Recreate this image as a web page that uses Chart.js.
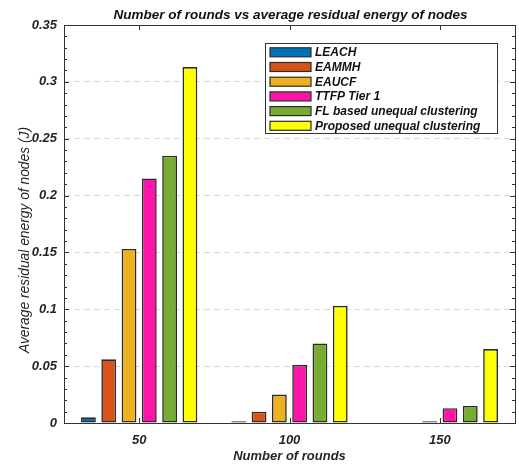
<!DOCTYPE html>
<html>
<head>
<meta charset="utf-8">
<script src="https://cdn.jsdelivr.net/npm/chart.js@4/dist/chart.umd.min.js"></script>
<style>
html,body{margin:0;padding:0;background:#fff;}
#wrap{width:519px;height:464px;position:relative;}
</style>
</head>
<body>
<div id="wrap"><canvas id="c" width="519" height="464"></canvas></div>
<script>
const categories = ['50', '100', '150'];
const seriesNames = ['LEACH', 'EAMMH', 'EAUCF', 'TTFP Tier 1', 'FL based unequal clustering', 'Proposed unequal clustering'];
const leach    = [0.005, 0.0015, 0];
const eammh    = [0.056, 0.010, 0];
const eaucf    = [0.153, 0.025, 0.0015];
const ttfp     = [0.215, 0.051, 0.013];
const fl       = [0.235, 0.070, 0.015];
const proposed = [0.313, 0.103, 0.065];
const yTicks = [0, 0.05, 0.1, 0.15, 0.2, 0.25, 0.3, 0.35];
const colors = ['#0072BD', '#D95319', '#EDB120', '#FF14A8', '#77AC30', '#FFFF00'];
const titleText = 'Number of rounds vs average residual energy of nodes';
const xTitle = 'Number of rounds';
const yTitle = 'Average residual energy of nodes (J)';

const FONT = '"Liberation Sans", Arial, sans-serif';
const allSeries = [leach, eammh, eaucf, ttfp, fl, proposed];

const datasets = allSeries.map((d, i) => ({
  label: seriesNames[i],
  data: d,
  backgroundColor: colors[i],
  borderColor: '#2b2b2b',
  borderWidth: 1.6,
  borderSkipped: false,
  categoryPercentage: 0.81,
  barPercentage: 0.73
}));

const decor = {
  id: 'decor',
  afterDraw(chart) {
    const ctx = chart.ctx;
    const a = chart.chartArea;
    const y = chart.scales.y, x = chart.scales.x;
    ctx.save();
    ctx.strokeStyle = '#333';
    ctx.lineWidth = 1;
    ctx.strokeRect(Math.round(a.left) + 0.5, Math.round(a.top) + 0.5, Math.round(a.right - a.left), Math.round(a.bottom - a.top));
    for (let k = 0; k <= 35; k++) {
      const v = k / 100;
      const py = Math.round(y.getPixelForValue(v)) + 0.5;
      const len = (k % 5 === 0) ? 5 : 3;
      ctx.beginPath();
      ctx.moveTo(a.left, py); ctx.lineTo(a.left + len, py);
      ctx.moveTo(a.right, py); ctx.lineTo(a.right - len, py);
      ctx.stroke();
    }
    categories.forEach((c, i) => {
      const px = Math.round(x.getPixelForValue(i)) + 0.5;
      ctx.beginPath();
      ctx.moveTo(px, a.bottom); ctx.lineTo(px, a.bottom - 5);
      ctx.moveTo(px, a.top); ctx.lineTo(px, a.top + 5);
      ctx.stroke();
    });
    ctx.fillStyle = '#111';
    ctx.textAlign = 'center';
    ctx.textBaseline = 'middle';
    ctx.font = 'italic bold 13.5px ' + FONT;
    ctx.fillText(titleText, (a.left + a.right) / 2 + 1, 15);
    ctx.fillStyle = '#262626';
    ctx.font = 'italic bold 13px ' + FONT;
    ctx.fillText(xTitle, (a.left + a.right) / 2, 456);
    ctx.save();
    ctx.translate(25, 240);
    ctx.rotate(-Math.PI / 2);
    ctx.font = 'italic 13.8px ' + FONT;
    ctx.fillText(yTitle, 0, 0);
    ctx.restore();
    const lx = 265.5, ly = 43.5, lw = 232, lh = 90;
    ctx.fillStyle = '#fff';
    ctx.fillRect(lx, ly, lw, lh);
    ctx.strokeStyle = '#333';
    ctx.lineWidth = 1;
    ctx.strokeRect(lx, ly, lw, lh);
    ctx.font = 'italic bold 12px ' + FONT;
    ctx.textAlign = 'left';
    chart.data.datasets.forEach((ds, i) => {
      const cy = 52.3 + i * 14.7;
      ctx.fillStyle = ds.backgroundColor;
      ctx.fillRect(270, cy - 4.5, 41, 9);
      ctx.strokeStyle = '#2b2b2b';
      ctx.lineWidth = 1.2;
      ctx.strokeRect(270, cy - 4.5, 41, 9);
      ctx.fillStyle = '#111';
      ctx.fillText(ds.label, 315, cy + 0.5);
    });
    ctx.restore();
  }
};

new Chart(document.getElementById('c'), {
  type: 'bar',
  data: { labels: categories, datasets },
  options: {
    responsive: false,
    animation: false,
    devicePixelRatio: 1,
    layout: { padding: { top: 25, right: 4, left: 0, bottom: 0 } },
    plugins: {
      legend: { display: false },
      tooltip: { enabled: false },
      title: { display: false }
    },
    scales: {
      x: {
        offset: true,
        grid: { display: false, drawTicks: false },
        border: { display: false },
        ticks: { color: '#262626', padding: 10, font: { family: FONT, size: 13, style: 'italic', weight: 'bold' } },
        afterFit(s) { s.height = 41; }
      },
      y: {
        min: 0, max: 0.35,
        afterBuildTicks(s) { s.ticks = yTicks.map(v => ({ value: v })); },
        grid: { color: '#d9d9d9', lineWidth: 1, drawTicks: false },
        border: { display: false, dash: [6, 4] },
        ticks: {
          color: '#262626', padding: 7,
          font: { family: FONT, size: 13, style: 'italic', weight: 'bold' },
          callback: (v) => String(+v.toFixed(2))
        },
        afterFit(s) { s.width = 64; }
      }
    }
  },
  plugins: [decor]
});
</script>
</body>
</html>
